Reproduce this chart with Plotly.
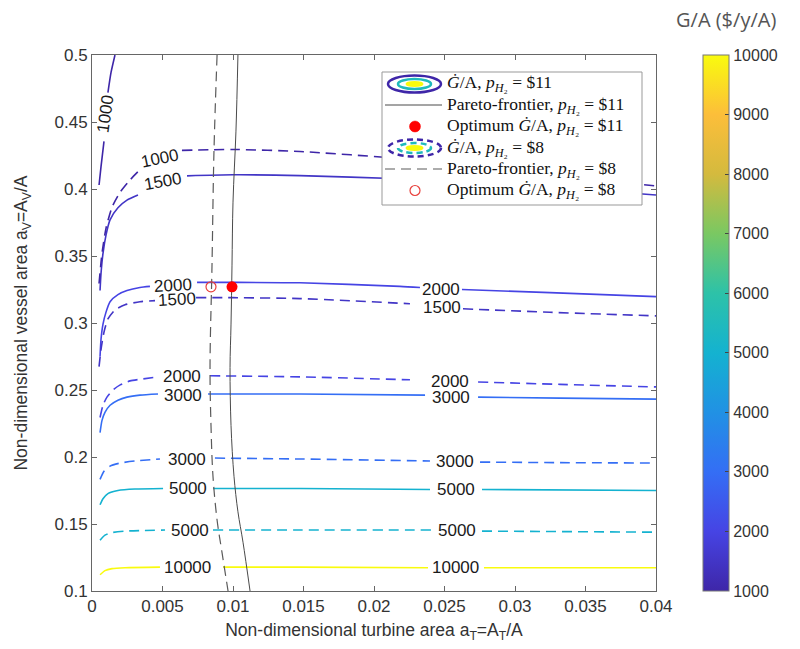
import plotly.graph_objects as go
from plotly.colors import sample_colorscale

# ---------------- data ----------------
cbar_ticks = [1000, 2000, 3000, 4000, 5000, 6000, 7000, 8000, 9000, 10000]
cbar_ticktext = ["1000", "2000", "3000", "4000", "5000", "6000", "7000", "8000", "9000", "10000"]
x_ticks = [0, 0.005, 0.01, 0.015, 0.02, 0.025, 0.03, 0.035, 0.04]
x_ticktext = ["0", "0.005", "0.01", "0.015", "0.02", "0.025", "0.03", "0.035", "0.04"]
y_ticks = [0.1, 0.15, 0.2, 0.25, 0.3, 0.35, 0.4, 0.45, 0.5]
y_ticktext = ["0.1", "0.15", "0.2", "0.25", "0.3", "0.35", "0.4", "0.45", "0.5"]

# p_H2 = $11 contours (solid); None = gap where the inline label sits
c11_1000_x = [0.0005, 0.00064, 0.00085, None, 0.00113, 0.00135, 0.00163]
c11_1000_y = [0.403, 0.4167, 0.4356, None, 0.472, 0.487, 0.5]
c11_1500_x = [0.00057, 0.00064, 0.00078, 0.0010, 0.00128, 0.00184, 0.00248, 0.00326, None,
              0.00674, 0.01, 0.01475, 0.02184, 0.0289, 0.0339, 0.04]
c11_1500_y = [0.3242, 0.337, 0.352, 0.366, 0.377, 0.386, 0.3917, 0.3955, None,
              0.4098, 0.4106, 0.41, 0.4076, 0.4038, 0.4008, 0.3955]
c11_2000_x = [0.00057, 0.00064, 0.00078, 0.0010, 0.00128, 0.00184, 0.00248, 0.0034, 0.00411, None,
              0.00745, 0.01, 0.01475, 0.02184, 0.02326, None, 0.02624, 0.03248, 0.04]
c11_2000_y = [0.275, 0.2879, 0.2992, 0.3083, 0.3159, 0.3212, 0.3242, 0.3265, 0.3273, None,
              0.3303, 0.3303, 0.33, 0.3273, 0.3265, None, 0.325, 0.3227, 0.3197]
c11_3000_x = [0.00057, 0.00071, 0.00092, 0.00128, 0.00184, 0.00248, 0.0034, 0.00468, None,
              0.00823, 0.01475, 0.02362, None, 0.02738, 0.0332, 0.04]
c11_3000_y = [0.2182, 0.2273, 0.2333, 0.2386, 0.2424, 0.2447, 0.2462, 0.247, None,
              0.247, 0.247, 0.2462, None, 0.2447, 0.2439, 0.2432]
c11_5000_x = [0.00057, 0.00078, 0.00113, 0.00184, 0.00305, 0.00504, None,
              0.00858, 0.01475, 0.02397, None, 0.02766, 0.04]
c11_5000_y = [0.1644, 0.1689, 0.1727, 0.175, 0.1761, 0.1765, None,
              0.1765, 0.1765, 0.1758, None, 0.1758, 0.175]
c11_10000_x = [0.00057, 0.00092, 0.00142, 0.00234, 0.00482, None,
               0.00929, 0.01475, 0.02383, None, 0.0278, 0.04]
c11_10000_y = [0.1121, 0.1152, 0.1167, 0.1174, 0.1178, None,
               0.1178, 0.1178, 0.1174, None, 0.1174, 0.1174]

# p_H2 = $8 contours (dashed)
c8_1000_x = [0.0005, 0.00071, 0.0010, 0.00142, 0.0020, 0.0027, 0.0034, None,
             0.00638, 0.01, 0.01475, 0.02184, 0.0289, 0.0339, 0.04]
c8_1000_y = [0.3295, 0.352, 0.371, 0.3864, 0.3977, 0.4068, 0.4144, None,
             0.4288, 0.4295, 0.428, 0.4227, 0.415, 0.409, 0.4023]
c8_1500_x = [0.0005, 0.00064, 0.00085, 0.00113, 0.00163, 0.00234, 0.0034, 0.00447, None,
             0.00738, 0.01, 0.01475, 0.02255, None, 0.02631, 0.03248, 0.04]
c8_1500_y = [0.2674, 0.2803, 0.2932, 0.303, 0.3098, 0.3136, 0.3159, 0.3167, None,
             0.3189, 0.3189, 0.3182, 0.3144, None, 0.3106, 0.308, 0.3053]
c8_2000_x = [0.00057, 0.00078, 0.00106, 0.00149, 0.0020, 0.0027, 0.00362, 0.00468, None,
             0.00837, 0.01475, 0.02255, None, 0.02738, 0.0332, 0.04]
c8_2000_y = [0.2295, 0.2386, 0.2447, 0.25, 0.2538, 0.2568, 0.2583, 0.2598, None,
             0.2606, 0.2598, 0.2576, None, 0.256, 0.2542, 0.2523]
c8_3000_x = [0.00057, 0.00085, 0.00128, 0.0020, 0.00305, 0.00482, None,
             0.00872, 0.01475, 0.02397, None, 0.02752, 0.0332, 0.04]
c8_3000_y = [0.1833, 0.1894, 0.1932, 0.1955, 0.197, 0.1985, None,
             0.1992, 0.1985, 0.197, None, 0.1962, 0.1958, 0.1955]
c8_5000_x = [0.00057, 0.00092, 0.00142, 0.00234, 0.00518, None,
             0.00858, 0.01475, 0.02411, None, 0.02766, 0.04]
c8_5000_y = [0.1379, 0.1417, 0.1436, 0.1447, 0.1455, None,
             0.1455, 0.1455, 0.1455, None, 0.1447, 0.1439]

# inline contour labels
lab11_text = ["1000", "1500", "2000", "3000", "5000", "10000", "2000", "3000", "5000", "10000"]
lab11_x = [0.00099, 0.00504, 0.00574, 0.00645, 0.0068, 0.0068, 0.02475, 0.02546, 0.0258, 0.0258]
lab11_y = [0.456, 0.4053, 0.328, 0.2462, 0.1765, 0.1174, 0.325, 0.2447, 0.1758, 0.1174]
lab11_angle = [-82, -10, -3, 0, 0, 0, 0, 0, 0, 0]
lab8_text = ["1000", "1500", "2000", "3000", "5000", "1500", "2000", "3000", "5000"]
lab8_x = [0.00482, 0.006, 0.00638, 0.00674, 0.00695, 0.0248, 0.0254, 0.02574, 0.02589]
lab8_y = [0.4227, 0.3174, 0.2598, 0.1985, 0.1455, 0.3114, 0.2565, 0.197, 0.1455]
lab8_angle = [-12, -3, 0, 0, 0, 0, 0, 0, 0]

# Pareto frontiers
par11_x = [0.01035, 0.01021, 0.0100, 0.00993, 0.00986, 0.00979, 0.00986, 0.01007, 0.01035, 0.01071, 0.01121]
par11_y = [0.5, 0.4432, 0.3902, 0.3432, 0.2992, 0.2667, 0.2235, 0.1856, 0.1591, 0.1364, 0.1]
par8_x = [0.00887, 0.00865, 0.00851, 0.00837, 0.00844, 0.00858, 0.00887, 0.00922, 0.00965]
par8_y = [0.5, 0.428, 0.3424, 0.2667, 0.2235, 0.1856, 0.153, 0.1288, 0.1]

# optimum points
opt11_x, opt11_y = [0.00993], [0.327]
opt8_x, opt8_y = [0.00844], [0.327]

legend_labels = [
    "<i>Ġ</i>/A, <i>p</i><sub><i>H</i>₂</sub> = $11",
    "Pareto-frontier, <i>p</i><sub><i>H</i>₂</sub> = $11",
    "Optimum <i>Ġ</i>/A, <i>p</i><sub><i>H</i>₂</sub> = $11",
    "<i>Ġ</i>/A, <i>p</i><sub><i>H</i>₂</sub> = $8",
    "Pareto-frontier, <i>p</i><sub><i>H</i>₂</sub> = $8",
    "Optimum <i>Ġ</i>/A, <i>p</i><sub><i>H</i>₂</sub> = $8",
]

# ---------------- styling ----------------
PARULA = [[0.0, 'rgb(62,38,168)'], [0.111, 'rgb(70,68,228)'], [0.222, 'rgb(52,110,245)'],
          [0.333, 'rgb(33,145,228)'], [0.444, 'rgb(20,178,208)'], [0.556, 'rgb(45,194,168)'],
          [0.667, 'rgb(122,200,98)'], [0.778, 'rgb(212,186,62)'], [0.889, 'rgb(252,190,58)'],
          [1.0, 'rgb(249,251,14)']]
CMIN, CMAX = 1000, 10000


def lvl_color(v):
    return sample_colorscale(PARULA, [(v - CMIN) / (CMAX - CMIN)])[0]


# the page body adds an 8px offset, so the figure is 8px smaller than the window
OFF = 8
W, H = 800 - OFF, 649 - OFF
ML, MR, MT, MB = 84, 144, 47, 58
PW, PH = W - ML - MR, H - MT - MB


def px(xp):  # page pixel -> paper x
    return (xp - OFF - ML) / PW


def py(yp):  # page pixel -> paper y
    return (H - MB - (yp - OFF)) / PH


fig = go.Figure()

solid = [(1000, c11_1000_x, c11_1000_y), (1500, c11_1500_x, c11_1500_y), (2000, c11_2000_x, c11_2000_y),
         (3000, c11_3000_x, c11_3000_y), (5000, c11_5000_x, c11_5000_y), (10000, c11_10000_x, c11_10000_y)]
dashed = [(1000, c8_1000_x, c8_1000_y), (1500, c8_1500_x, c8_1500_y), (2000, c8_2000_x, c8_2000_y),
          (3000, c8_3000_x, c8_3000_y), (5000, c8_5000_x, c8_5000_y)]

for lv, xs, ys in solid:
    fig.add_trace(go.Scatter(x=xs, y=ys, mode="lines", line=dict(color=lvl_color(lv), width=1.6, shape="spline", smoothing=0.6),
                             connectgaps=False, showlegend=False, hoverinfo="skip"))
for lv, xs, ys in dashed:
    fig.add_trace(go.Scatter(x=xs, y=ys, mode="lines", line=dict(color=lvl_color(lv), width=1.6, dash="10px,6px", shape="spline", smoothing=0.6),
                             connectgaps=False, showlegend=False, hoverinfo="skip"))

fig.add_trace(go.Scatter(x=par11_x, y=par11_y, mode="lines", line=dict(color="#4a4a4a", width=1, shape="spline"),
                         showlegend=False, hoverinfo="skip"))
fig.add_trace(go.Scatter(x=par8_x, y=par8_y, mode="lines", line=dict(color="#5a5a5a", width=1.2, dash="10px,6px", shape="spline"),
                         showlegend=False, hoverinfo="skip"))

fig.add_trace(go.Scatter(x=opt11_x, y=opt11_y, mode="markers", marker=dict(color="#ff0000", size=11),
                         showlegend=False, hoverinfo="skip"))
fig.add_trace(go.Scatter(x=opt8_x, y=opt8_y, mode="markers",
                         marker=dict(symbol="circle-open", color="#e8403c", size=10, line=dict(width=1.2)),
                         showlegend=False, hoverinfo="skip"))

# colour bar (dummy trace)
fig.add_trace(go.Scatter(x=[None], y=[None], mode="markers", showlegend=False, hoverinfo="skip",
                         marker=dict(color=[CMIN], colorscale=PARULA, cmin=CMIN, cmax=CMAX, showscale=True,
                                     colorbar=dict(x=px(703), xanchor="left", xpad=0, ypad=0, y=0.5, yanchor="middle",
                                                   len=1, lenmode="fraction", thickness=26, thicknessmode="pixels",
                                                   outlinewidth=1, outlinecolor="#777",
                                                   tickvals=cbar_ticks, ticktext=cbar_ticktext,
                                                   ticks="inside", ticklen=4, tickcolor="#444",
                                                   tickfont=dict(family="Liberation Sans, Arial", size=16, color="#333")))))

annotations = []
for t, x, y, a in list(zip(lab11_text, lab11_x, lab11_y, lab11_angle)) + list(zip(lab8_text, lab8_x, lab8_y, lab8_angle)):
    annotations.append(dict(x=x, y=y, xref="x", yref="y", text=t, showarrow=False, textangle=a,
                            borderpad=0, font=dict(family="Liberation Sans, Arial", size=17, color="#1a1a1a")))

# manual legend
shapes = [dict(type="rect", xref="paper", yref="paper", x0=px(382), x1=px(642), y0=py(205), y1=py(72),
               fillcolor="white", line=dict(color="#999", width=1), layer="above")]
rows = [84, 105, 126.5, 148, 169, 190.5]


def ell(cx, cy, w, h, col, dash=None, fill=None, lw=2.5):
    d = dict(type="circle", xref="paper", yref="paper", x0=px(cx - w / 2), x1=px(cx + w / 2),
             y0=py(cy + h / 2), y1=py(cy - h / 2), line=dict(color=col, width=lw), layer="above")
    if dash:
        d["line"]["dash"] = dash
    if fill:
        d["fillcolor"] = fill
    return d


for r, dsh in ((rows[0], None), (rows[3], "6px,4px")):
    shapes.append(ell(414.5, r, 53, 17, lvl_color(1000), dsh))
    shapes.append(ell(414.5, r, 33, 10, lvl_color(5500), dsh))
    shapes.append(ell(414.5, r, 16, 4, lvl_color(10000), None, lvl_color(10000), 2))
shapes.append(dict(type="line", xref="paper", yref="paper", x0=px(385), x1=px(442), y0=py(rows[1]), y1=py(rows[1]),
                   line=dict(color="#4a4a4a", width=1), layer="above"))
shapes.append(dict(type="line", xref="paper", yref="paper", x0=px(385), x1=px(442), y0=py(rows[4]), y1=py(rows[4]),
                   line=dict(color="#5a5a5a", width=1.2, dash="10px,6px"), layer="above"))
shapes.append(ell(415, rows[2], 11, 11, "#ff0000", None, "#ff0000", 0.5))
shapes.append(ell(415, rows[5], 10, 10, "#e8403c", None, None, 1.2))

for r, t in zip(rows, legend_labels):
    annotations.append(dict(x=px(446), y=py(r), xref="paper", yref="paper", text=t, showarrow=False,
                            xanchor="left", yanchor="middle", borderpad=0,
                            font=dict(family="Liberation Serif, Times New Roman, serif", size=17.5, color="#111")))

# colour bar title
annotations.append(dict(x=px(726), y=py(20), xref="paper", yref="paper", text="G/A ($/y/A)", showarrow=False,
                        xanchor="center", yanchor="middle", borderpad=0,
                        font=dict(family="Open Sans", size=20, color="#555")))

axis_common = dict(showgrid=False, zeroline=False, showline=True, linecolor="#666", linewidth=1, mirror="ticks",
                   ticks="inside", ticklen=5, tickcolor="#666", automargin=False,
                   tickfont=dict(family="Liberation Sans, Arial", size=17, color="#333"))

fig.update_layout(
    width=W, height=H, margin=dict(l=ML, r=MR, t=MT, b=MB, pad=0, autoexpand=False),
    paper_bgcolor="white", plot_bgcolor="white",
    xaxis=dict(range=[0, 0.04], tickvals=x_ticks, ticktext=x_ticktext,
               title=dict(text="Non-dimensional turbine area a<sub>T</sub>=A<sub>T</sub>/A", standoff=8,
                          font=dict(family="Liberation Sans, Arial", size=17.5, color="#333")), **axis_common),
    yaxis=dict(range=[0.1, 0.5], tickvals=y_ticks, ticktext=y_ticktext,
               title=dict(text="Non-dimensional vessel area a<sub>V</sub>=A<sub>V</sub>/A", standoff=22,
                          font=dict(family="Liberation Sans, Arial", size=17.5, color="#333")), **axis_common),
    annotations=annotations, shapes=shapes, showlegend=False,
)

fig.write_html("out.html")
